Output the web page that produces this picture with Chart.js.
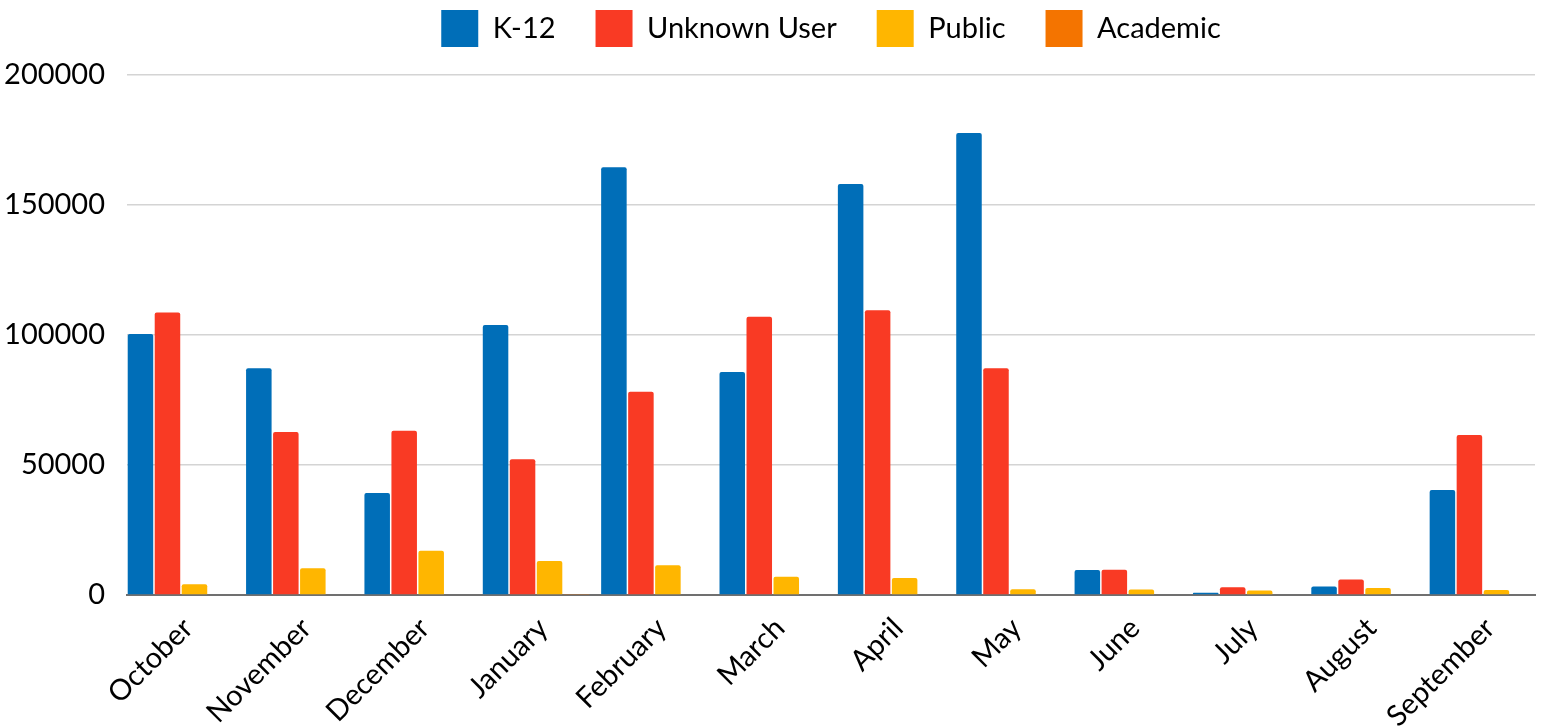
<!DOCTYPE html>
<html>
<head>
<meta charset="utf-8">
<script src="https://cdn.jsdelivr.net/npm/chart.js@4"></script>
<style>
  html, body { margin: 0; padding: 0; background: #fff; }
  #wrap { width: 1541px; height: 727px; }
</style>
</head>
<body>
<div id="wrap"><canvas id="usageChart" width="1541" height="727"></canvas></div>
<script>
const months = ["October", "November", "December", "January", "February", "March",
                "April", "May", "June", "July", "August", "September"];
const k12 =      [100400, 87200, 39200, 103800, 164500, 85800, 158100, 177700, 9600, 900, 3300, 40400];
const unknown =  [108700, 62700, 63200, 52200, 78200, 107000, 109500, 87200, 9700, 3000, 6000, 61500];
const publicUse = [4100, 10300, 17000, 13100, 11400, 7000, 6500, 2200, 2100, 1700, 2700, 1900];
const academic = [0, 0, 0, 400, 0, 300, 300, 0, 0, 0, 0, 0];
const yTicks = [0, 50000, 100000, 150000, 200000];

const font = "Lato, 'Open Sans', sans-serif";
// the month groups don't line up with the gridline edges in the original,
// so the index axis runs a bit past them on both sides
const xMin = -0.456;
const xMax = 11.44;

function bars(label, data, color) {
    return {
        label: label,
        data: data.map((v, i) => ({ x: i, y: v })),
        backgroundColor: color,
        borderRadius: 2,
        borderSkipped: 'bottom',
        categoryPercentage: 0.9125,
        barPercentage: 0.945
    };
}

// legend: wide item spacing but sits close to the top, plot starts lower
const legendFit = {
    id: 'legendFit',
    beforeLayout(chart) {
        const legend = chart.legend;
        if (!legend || legend._patched) return;
        const fit = legend.fit;
        legend.fit = function () {
            fit.call(this);
            this.height = 105;
        };
        legend._patched = true;
    }
};

new Chart(document.getElementById('usageChart').getContext('2d'), {
    type: 'bar',
    data: {
        labels: months,
        datasets: [
            bars("K-12", k12, "#006EB8"),
            bars("Unknown User", unknown, "#F93A24"),
            bars("Public", publicUse, "#FFB600"),
            bars("Academic", academic, "#F47400")
        ]
    },
    plugins: [legendFit],
    options: {
        responsive: false,
        animation: false,
        layout: { padding: { left: 0, right: 6, top: -30, bottom: 0 } },
        plugins: {
            legend: {
                position: 'top',
                fullSize: false,
                labels: {
                    boxWidth: 37,
                    boxHeight: 37,
                    padding: 40,
                    color: '#000',
                    font: { family: font, size: 29 }
                }
            },
            tooltip: { enabled: false }
        },
        scales: {
            x: {
                type: 'linear',
                offset: false,
                min: xMin,
                max: xMax,
                afterBuildTicks: scale => { scale.ticks = months.map((m, i) => ({ value: i })); },
                grid: { display: false, offset: false },
                border: { display: true, color: '#707070', width: 2 },
                ticks: {
                    color: '#000',
                    font: { family: font, size: 29 },
                    autoSkip: false,
                    minRotation: 45,
                    maxRotation: 45,
                    padding: 8,
                    labelOffset: 7,
                    callback: v => months[v]
                },
                afterFit: scale => { scale.height = 132; }
            },
            y: {
                min: 0,
                max: 200000,
                afterBuildTicks: scale => { scale.ticks = yTicks.map(v => ({ value: v })); },
                grid: { color: '#d4d4d4', lineWidth: 1.5, drawTicks: false },
                border: { display: false },
                ticks: {
                    color: '#000',
                    font: { family: font, size: 29 },
                    padding: 22,
                    callback: v => String(v)
                },
                afterFit: scale => { scale.width = 127; }
            }
        }
    }
});
</script>
</body>
</html>
